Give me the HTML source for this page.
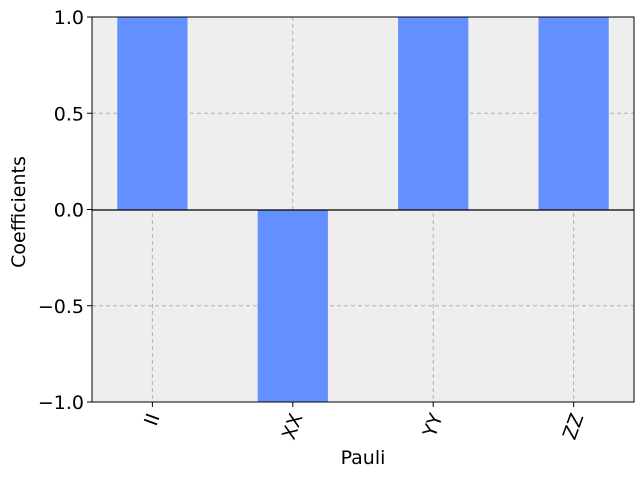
<!DOCTYPE html>
<html><head><meta charset="utf-8"><style>
html,body{margin:0;padding:0;background:#fff;}
svg{display:block;font-family:"DejaVu Sans","Liberation Sans",sans-serif;}
</style></head><body>
<svg id="chart" width="644" height="478">
<rect x="92" y="17" width="542" height="385" fill="#eeeeee"/>
<g id="grid"></g>
<g id="bars"></g>
<line x1="92" x2="634" y1="210" y2="210" stroke="#000" stroke-width="1.2"/>
<rect x="92" y="17" width="542" height="385" fill="none" stroke="#000" stroke-width="1"/>
<g id="ticks"></g>
<text x="363" y="464" font-size="19" text-anchor="middle">Pauli</text>
<text transform="translate(25,212) rotate(-90)" font-size="19" text-anchor="middle">Coefficients</text>
</svg>
<script>
const categories = ["II","XX","YY","ZZ"];
const values = [1, -1, 1, 1];
const yTicks = [-1.0, -0.5, 0.0, 0.5, 1.0];
const yTickLabels = ["\u22121.0","\u22120.5","0.0","0.5","1.0"];

const L=92,R=634,T=17,B=402;
const xMin=-0.43,xMax=3.43,yMin=-1,yMax=1;
const xs=v=>L+(v-xMin)/(xMax-xMin)*(R-L);
const ys=v=>B-(v-yMin)/(yMax-yMin)*(B-T);
const NS="http://www.w3.org/2000/svg";
const grid=document.getElementById('grid'),bars=document.getElementById('bars'),ticks=document.getElementById('ticks');
function mk(tag,attrs,parent){const e=document.createElementNS(NS,tag);for(const k in attrs)e.setAttribute(k,attrs[k]);parent.appendChild(e);return e;}
const bw=0.5;
const ang=70*Math.PI/180;
categories.forEach((c,i)=>{
  const gl=mk('line',{x1:xs(i),x2:xs(i),y1:T,y2:B,stroke:'#b0b0b0','stroke-dasharray':'4,3','stroke-width':1},grid);
  
  
  const v=values[i];
  const b=mk('rect',{x:xs(i-bw/2),width:xs(i+bw/2)-xs(i-bw/2),y:Math.min(ys(v),ys(0)),height:Math.abs(ys(v)-ys(0)),fill:'#648fff'},bars);
  
  
  const tk=mk('line',{x1:xs(i),x2:xs(i),y1:B,y2:B+5,stroke:'#000'},ticks);
  
  
  const t=mk('text',{'font-size':19,'text-anchor':'middle','dominant-baseline':'central'},ticks);
  t.textContent=c;
  
  
  const w=t.getComputedTextLength();
  const hgt=w*Math.sin(ang)+14*Math.cos(ang);
  const cy=B+10+hgt/2;
  t.setAttribute('transform',`translate(${xs(i)},${cy}) rotate(-70)`);
});
yTicks.forEach((v,i)=>{
  if(v!==0&&v!==1&&v!==-1){
    const gl=mk('line',{x1:L,x2:R,y1:ys(v),y2:ys(v),stroke:'#b0b0b0','stroke-dasharray':'4,3','stroke-width':1},grid);
    
    
  }
  const tk=mk('line',{x1:L-5,x2:L,y1:ys(v),y2:ys(v),stroke:'#000'},ticks);
  
  
  const t=mk('text',{x:L-8,y:ys(v)+7,'font-size':19,'text-anchor':'end'},ticks);
  t.textContent=yTickLabels[i];
  
  
});
</script>
</body></html>
